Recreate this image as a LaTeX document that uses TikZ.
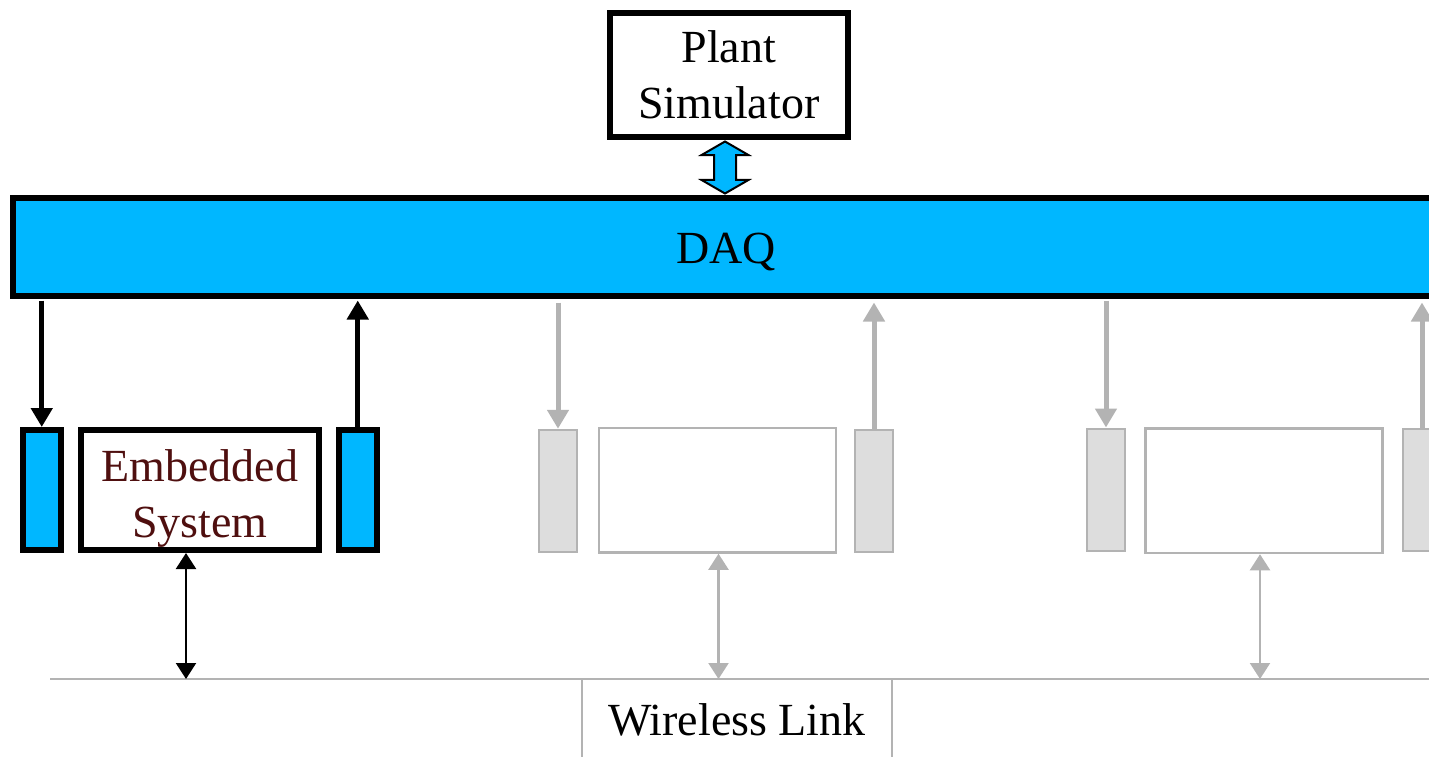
\documentclass[tikz,border=0pt]{standalone}
\usepackage{fontspec}
\setmainfont{Liberation Serif}
\usepackage{xcolor}
\definecolor{cDaq}{HTML}{00B7FF}
\definecolor{cFade}{HTML}{B3B3B3}
\definecolor{cFadeFill}{HTML}{DDDDDD}
\definecolor{cEmb}{HTML}{4F0F0F}
\usetikzlibrary{positioning,arrows.meta,shapes.arrows,calc}
\tikzset{
  node-box/.style={draw=black,line width=6pt,fill=white,inner sep=0pt,
    align=center,font=\fontsize{46}{56}\selectfont},
  node-io/.style={draw=black,line width=6pt,fill=cDaq,inner sep=0pt,
    minimum width=37.5pt,minimum height=120pt},
  node-fade/.style={draw=cFade,line width=2.5pt,fill=white,inner sep=0pt,
    minimum width=237pt,minimum height=124.5pt},
  node-io-fade/.style={draw=cFade,line width=2.5pt,fill=cFadeFill,inner sep=0pt,
    minimum width=38pt,minimum height=122pt},
  arrow/.style={-{Triangle[length=19pt,width=21pt]},line width=5pt,draw=black},
  arrow-fade/.style={arrow,draw=cFade},
  arrow-link/.style={{Triangle[length=16pt,width=20pt]}-{Triangle[length=16pt,width=20pt]},
    line width=2.2pt,draw=black},
  arrow-link-fade/.style={arrow-link,draw=cFade},
}

\begin{document}
\begin{tikzpicture}[x=1pt,y=-1pt]
  \useasboundingbox (0,0) rectangle (1429,757);
  \clip (0,0) rectangle (1429,757);
  % plant + DAQ
  \node[node-box,minimum width=237.5pt,minimum height=124.5pt] (plant) at (728.75,75) {Plant\\Simulator};
  \node[node-box,fill=cDaq,minimum width=1426pt,minimum height=97.5pt] (daq) at (726,246.75)
    {\raisebox{-5pt}[\height][\depth]{DAQ}};
  \node[double arrow,draw=black,line width=2pt,fill=cDaq,rotate=90,inner xsep=0pt,inner ysep=10pt,
    minimum height=52pt,minimum width=45pt,double arrow head extend=12.5pt,
    double arrow tip angle=120] (link) at (725,167.5) {};
  % first node
  \node[node-io] (in-a) at (41.75,490) {};
  \node[node-box,minimum width=238pt,minimum height=120pt,text=cEmb] (emb) at (200,490)
    {\raisebox{-8pt}[\height][\depth]{\begin{tabular}{@{}c@{}}Embedded\\System\end{tabular}}};
  \node[node-io] (out-a) at (357.75,490) {};
  % faded nodes
  \node[node-io-fade] (in-b) at (558,491) {};
  \node[node-fade] (sys-b) at (717.5,490.25) {};
  \node[node-io-fade] (out-b) at (874,491) {};
  \node[node-io-fade] (in-c) at (1106,489.75) {};
  \node[node-fade] (sys-c) at (1264,490.75) {};
  \node[node-io-fade] (out-c) at (1422,489.75) {};
  % wireless link
  \coordinate (wl-w) at (50,679);
  \coordinate (wl-e) at (1440,679);
  \draw[cFade,line width=2pt] (wl-w) -- (wl-e);
  \node[draw=cFade,line width=2pt,fill=white,minimum width=310pt,minimum height=82pt,
    inner sep=0pt,font=\fontsize{46}{56}\selectfont] (wireless) at (737,720) {Wireless Link};

  \draw[arrow,shorten <=2pt] (in-a.north |- daq.south) -- (in-a.north);
  \draw[arrow,shorten >=2pt] (out-a.north) -- (out-a.north |- daq.south);
  \draw[arrow-fade,shorten <=4pt] (in-b.north |- daq.south) -- (in-b.north);
  \draw[arrow-fade,shorten >=4pt] (out-b.north) -- (out-b.north |- daq.south);
  \draw[arrow-fade,shorten <=2pt] (in-c.north |- daq.south) -- (in-c.north);
  \draw[arrow-fade,shorten >=4pt] (out-c.north) -- (out-c.north |- daq.south);
  \draw[arrow-link] ([xshift=-14pt]emb.south) -- ([xshift=-14pt]emb.south |- wl-w);
  \draw[arrow-link-fade] ([xshift=1pt]sys-b.south) -- ([xshift=1pt]sys-b.south |- wl-w);
  \draw[arrow-link-fade] ([xshift=-4pt]sys-c.south) -- ([xshift=-4pt]sys-c.south |- wl-w);
\end{tikzpicture}
\end{document}
